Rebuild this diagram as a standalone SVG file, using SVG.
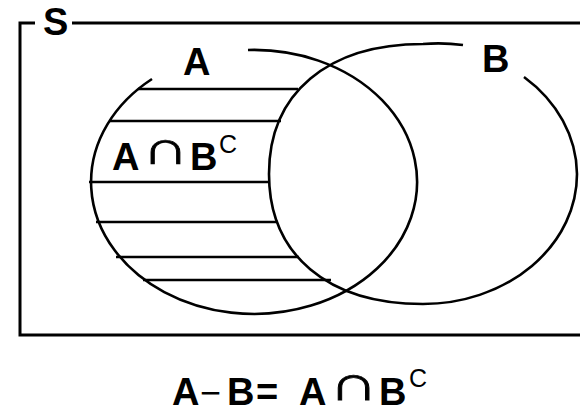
<svg xmlns="http://www.w3.org/2000/svg" width="580" height="412" viewBox="0 0 580 412">
<style>
.ln{fill:none;stroke:#000;stroke-width:3}
.cv{fill:none;stroke:#000;stroke-width:2.6}
.ht{stroke:#000;stroke-width:2.6}
.t{font-family:"Liberation Sans",Arial,sans-serif;font-weight:bold;font-size:38px;fill:#000}
.sup{font-family:"Liberation Sans",Arial,sans-serif;font-size:25px;fill:#000}
.cap{font-family:"DejaVu Sans",sans-serif;font-weight:200;font-size:47px;fill:#000;stroke:#000;stroke-width:0.7}
.mn{font-family:"Liberation Sans",Arial,sans-serif;font-size:36px;fill:#000}
</style>
<rect width="580" height="412" fill="#fff"/>
<g id="S">
<path class="ln" d="M72,23 H583 V335 H20 V23 H35"/>
<text class="t" x="43" y="35">S</text>
</g>
<g id="A">
<path class="cv" d="M248,50 A163,132 0 1,1 152,79"/>
<text class="t" x="183" y="75">A</text>
</g>
<g id="B">
<path class="cv" d="M524,77 A154,130 0 0,1 577,174 A154,130 0 0,1 423,304 C327.5,304 269,254.6 269,174 C269,93.4 327.5,44 423,44 A154,130 0 0,1 463,45"/>
<text class="t" x="482" y="72">B</text>
</g>
<g id="hatch">
<line class="ht" x1="138" y1="89" x2="298" y2="89"/>
<line class="ht" x1="109" y1="121" x2="281" y2="121"/>
<line class="ht" x1="89" y1="182" x2="269" y2="182"/>
<line class="ht" x1="96" y1="222" x2="278" y2="222"/>
<line class="ht" x1="116" y1="257" x2="299" y2="257"/>
<line class="ht" x1="143" y1="280" x2="331" y2="280"/>
</g>
<g id="label-inner">
<text class="t" x="112" y="170">A</text>
<text class="cap" transform="translate(142,164) scale(1.38,1)" x="0" y="0">∩</text>
<text class="t" x="190" y="170">B</text>
<text class="sup" x="219" y="153">C</text>
</g>
<g id="formula">
<text class="t" x="172" y="405">A</text>
<text class="mn" x="200" y="405">−</text>
<text class="t" x="227" y="405">B</text>
<text class="t" x="256" y="405">=</text>
<text class="t" x="299" y="405">A</text>
<text class="cap" transform="translate(329,400) scale(1.45,1.05)" x="0" y="0">∩</text>
<text class="t" x="379" y="405">B</text>
<text class="sup" x="409" y="387">C</text>
</g>
</svg>
